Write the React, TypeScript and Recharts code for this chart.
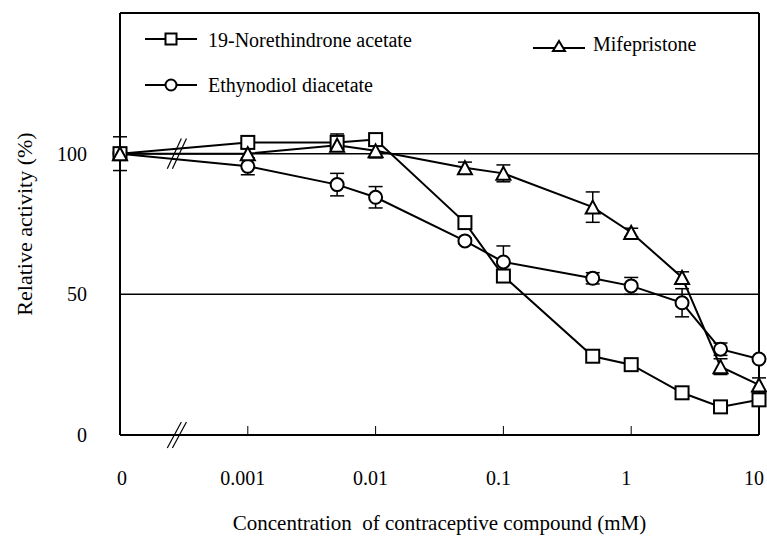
import {
  ErrorBar,
  Legend,
  Line,
  LineChart,
  ReferenceLine,
  XAxis,
  YAxis,
} from "recharts";

const FONT = "Liberation Serif";

// concentration in mM (0 = control, drawn left of the axis break)
const conc = [0, 0.001, 0.005, 0.01, 0.05, 0.1, 0.5, 1, 2.5, 5, 10];
const tickConc = [0, 0.001, 0.01, 0.1, 1, 10];
const tickLabels = ["0", "0.001", "0.01", "0.1", "1", "10"];

const norethindrone = [100, 104, 104, 105, 75.5, 56.5, 28, 25, 15, 10, 12.5];
const norethindroneErr = [6, 0, 3, 0, 0, 0, 0, 0, 0, 0, 0];
const ethynodiol = [100, 95.5, 89, 84.5, 69, 61.5, 55.7, 53, 47, 30.5, 27];
const ethynodiolErr = [0, 3, 4, 3.8, 1, 5.7, 2, 3, 5, 2.2, 0];
const mifepristone = [100, 100, 103, 101, 95, 93, 81, 72, 56, 24.3, 17.8];
const mifepristoneErr = [0, 2, 0, 2.5, 2, 3, 5.4, 1.5, 2, 2.8, 2.5];

// log10 position, control value placed one decade left of 0.001
const toPos = (c: number) => (c === 0 ? 0 : Math.log10(c) + 4);

const data = conc.map((c, i) => ({
  pos: toPos(c),
  net: norethindrone[i],
  netErr: norethindroneErr[i],
  eth: ethynodiol[i],
  ethErr: ethynodiolErr[i],
  mif: mifepristone[i],
  mifErr: mifepristoneErr[i],
}));

const SquareDot = ({ cx, cy, size = 13 }: any) => (
  <rect
    x={cx - size / 2}
    y={cy - size / 2}
    width={size}
    height={size}
    fill="#fff"
    stroke="#000"
    strokeWidth={2}
  />
);

const CircleDot = ({ cx, cy, r = 6.5 }: any) => (
  <circle cx={cx} cy={cy} r={r} fill="#fff" stroke="#000" strokeWidth={2} />
);

const TriangleDot = ({ cx, cy, w = 14, h = 13 }: any) => (
  <path
    d={`M${cx},${cy - h / 2}L${cx + w / 2},${cy + h / 2}L${cx - w / 2},${cy + h / 2}Z`}
    fill="#fff"
    stroke="#000"
    strokeWidth={2}
  />
);

const XTick = ({ x, y, payload }: any) => {
  const idx = tickConc.findIndex((c) => Math.abs(toPos(c) - payload.value) < 1e-6);
  return (
    <g>
      <line x1={x} y1={y} x2={x} y2={y - 9} stroke="#000" strokeWidth={1} />
      <text
        x={idx === 0 ? x + 2 : x - 5}
        y={y + 50}
        textAnchor="middle"
        fontSize={20}
        fontFamily={FONT}
        fill="#000"
      >
        {idx >= 0 ? tickLabels[idx] : ""}
      </text>
    </g>
  );
};

const renderLegend = () => (
  <svg width={767} height={100} style={{ display: "block" }}>
    <g fontFamily={FONT} fontSize={20} fill="#000">
      <line x1={145} y1={39} x2={197} y2={39} stroke="#000" strokeWidth={2} />
      <SquareDot cx={171} cy={39} size={11} />
      <text x={208} y={47}>19-Norethindrone acetate</text>

      <line x1={145} y1={85} x2={197} y2={85} stroke="#000" strokeWidth={2} />
      <CircleDot cx={171} cy={85} r={5.5} />
      <text x={208} y={92}>Ethynodiol diacetate</text>

      <line x1={533} y1={48} x2={585} y2={48} stroke="#000" strokeWidth={2} />
      <TriangleDot cx={559} cy={46} w={12} h={10} />
      <text x={593} y={51}>Mifepristone</text>
    </g>
  </svg>
);

const axisStyle = { stroke: "#000", strokeWidth: 2 };

const ContraceptiveChart = () => (
  <LineChart
    width={767}
    height={539}
    data={data}
    margin={{ top: 13, right: 8, bottom: 0, left: 0 }}
    style={{ fontFamily: FONT }}
  >
    <XAxis
      type="number"
      dataKey="pos"
      domain={[0, 5]}
      ticks={tickConc.map(toPos)}
      height={104}
      tickLine={false}
      tickSize={0}
      tickMargin={0}
      axisLine={axisStyle}
      tick={<XTick />}
      label={{
        value: "Concentration\u00A0 of contraceptive compound (mM)",
        position: "insideBottom",
        offset: 9,
        fontSize: 21,
        fontFamily: FONT,
        fill: "#000",
      }}
    />
    <YAxis
      type="number"
      domain={[0, 150]}
      ticks={[0, 50, 100]}
      width={120}
      tickLine={false}
      tickSize={0}
      tickMargin={33}
      axisLine={axisStyle}
      tick={{ fontSize: 20, fontFamily: FONT, fill: "#000" }}
      label={{
        content: ({ viewBox }: any) => {
          const cx = viewBox.x + 24;
          const cy = viewBox.y + viewBox.height / 2;
          return (
            <text
              x={cx}
              y={cy}
              transform={`rotate(-90, ${cx}, ${cy})`}
              textAnchor="middle"
              dominantBaseline="central"
              fontSize={22}
              fontFamily={FONT}
              fill="#000"
            >
              Relative activity (%)
            </text>
          );
        },
      }}
    />
    {/* frame */}
    <ReferenceLine y={150} stroke="#000" strokeWidth={2} />
    <ReferenceLine x={5} stroke="#000" strokeWidth={2} />
    <ReferenceLine y={100} stroke="#000" strokeWidth={1.5} />
    <ReferenceLine y={50} stroke="#000" strokeWidth={1.5} />
    {/* axis break marks */}
    <ReferenceLine segment={[{ x: 0.37, y: 94.6 }, { x: 0.48, y: 105.4 }]} stroke="#000" strokeWidth={1.2} />
    <ReferenceLine segment={[{ x: 0.41, y: 94.6 }, { x: 0.52, y: 105.4 }]} stroke="#000" strokeWidth={1.2} />
    <ReferenceLine segment={[{ x: 0.37, y: -4.6 }, { x: 0.48, y: 4.6 }]} stroke="#000" strokeWidth={1.2} ifOverflow="visible" />
    <ReferenceLine segment={[{ x: 0.41, y: -4.6 }, { x: 0.52, y: 4.6 }]} stroke="#000" strokeWidth={1.2} ifOverflow="visible" />

    <Legend
      layout="vertical"
      align="center"
      verticalAlign="middle"
      content={renderLegend}
      wrapperStyle={{ position: "absolute", top: 0, left: 0, width: 767, height: 100 }}
    />

    <Line
      dataKey="eth"
      stroke="#000"
      strokeWidth={2}
      isAnimationActive={false}
      activeDot={false}
      dot={(p: any) => <CircleDot key={`e${p.index}`} cx={p.cx} cy={p.cy} />}
    >
      <ErrorBar dataKey="ethErr" direction="y" width={7} stroke="#000" strokeWidth={1.5} />
    </Line>
    <Line
      dataKey="net"
      stroke="#000"
      strokeWidth={2}
      isAnimationActive={false}
      activeDot={false}
      dot={(p: any) => <SquareDot key={`n${p.index}`} cx={p.cx} cy={p.cy} />}
    >
      <ErrorBar dataKey="netErr" direction="y" width={7} stroke="#000" strokeWidth={1.5} />
    </Line>
    <Line
      dataKey="mif"
      stroke="#000"
      strokeWidth={2}
      isAnimationActive={false}
      activeDot={false}
      dot={(p: any) => <TriangleDot key={`m${p.index}`} cx={p.cx} cy={p.cy} />}
    >
      <ErrorBar dataKey="mifErr" direction="y" width={7} stroke="#000" strokeWidth={1.5} />
    </Line>
  </LineChart>
);

export default function App() {
  return (
    <div
      style={{
        position: "fixed",
        top: 0,
        left: 0,
        width: 767,
        height: 539,
        overflow: "hidden",
        background: "#fff",
        fontFamily: FONT,
      }}
    >
      <ContraceptiveChart />
    </div>
  );
}
